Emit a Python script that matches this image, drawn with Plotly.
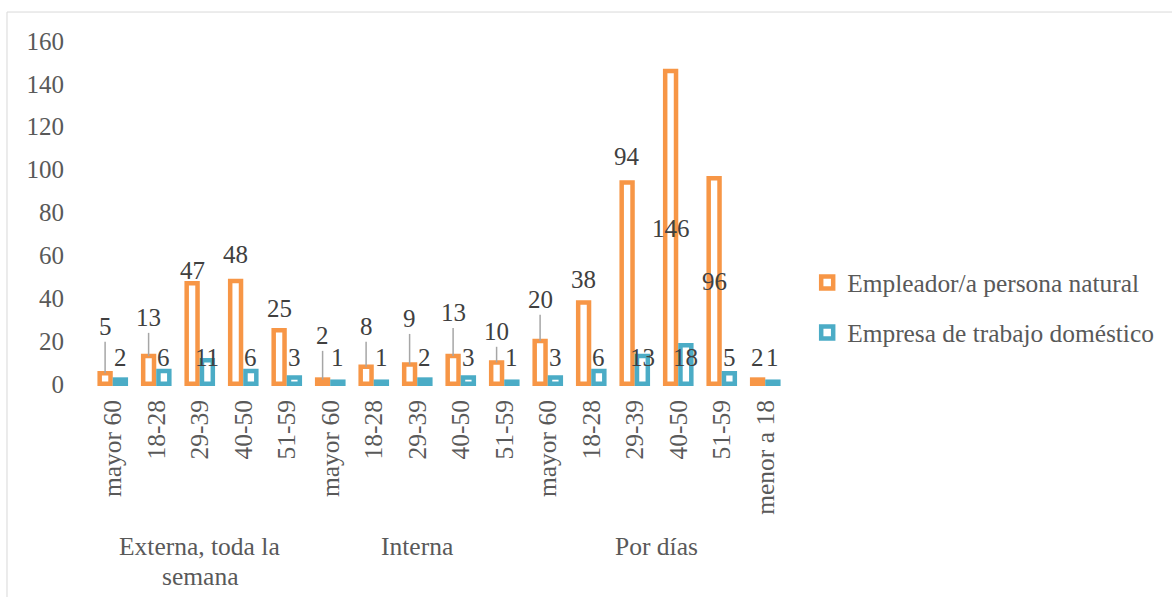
import plotly.graph_objects as go

# Age brackets along the x axis, grouped by type of domestic work
categories = ["mayor 60", "18-28", "29-39", "40-50", "51-59",
              "mayor 60", "18-28", "29-39", "40-50", "51-59",
              "mayor 60", "18-28", "29-39", "40-50", "51-59", "menor a 18"]
groups = ["Externa, toda la<br>semana", "Interna", "Por días"]
group_sizes = [5, 5, 6]

series_names = ["Empleador/a persona natural", "Empresa de trabajo doméstico"]
empleador = [5, 13, 47, 48, 25, 2, 8, 9, 13, 10, 20, 38, 94, 146, 96, 2]
empresa = [2, 6, 11, 6, 3, 1, 1, 2, 3, 1, 3, 6, 13, 18, 5, 1]

# Where each value label sits (axis units) and whether it has a leader line
empleador_label_y = [26.6, 30.8, 52.7, 60.6, 35.4, 22.4, 26.6, 30.3, 33.1,
                     24.3, 39.2, 48.5, 105.9, 72.3, 47.6, 12.1]
empresa_label_y = [12.1] * 16
empleador_leader = [True, True, False, False, False, True, True, True, True,
                    True, True, False, False, False, False, False]

ORANGE = "#F79646"
TEAL = "#4BACC6"
TEXT = "#595959"
LABEL = "#404040"
FONT = "Liberation Serif"

BARGAP = 0.297
half_slot = (1 - BARGAP) / 4  # centre offset of each bar from the category centre

x = list(range(len(categories)))

fig = go.Figure()
for name, vals, col in [(series_names[0], empleador, ORANGE),
                        (series_names[1], empresa, TEAL)]:
    fig.add_trace(go.Bar(
        x=x, y=vals, name=name, legendgroup=name,
        marker=dict(color="white", line=dict(color=col, width=4.5)),
        hoverinfo="y",
    ))

annotations = []
shapes = []
for i in x:
    xo = i - half_slot
    xt = i + half_slot
    annotations.append(dict(x=xo, y=empleador_label_y[i], xref="x", yref="y",
                            text=str(empleador[i]), showarrow=False,
                            font=dict(family=FONT, size=25, color=LABEL)))
    annotations.append(dict(x=xt, y=empresa_label_y[i], xref="x", yref="y",
                            text=str(empresa[i]), showarrow=False,
                            font=dict(family=FONT, size=25, color=LABEL)))
    if empleador_leader[i]:
        shapes.append(dict(type="line", xref="x", yref="y",
                           x0=xo, x1=xo, y0=empleador_label_y[i] - 7,
                           y1=empleador[i],
                           line=dict(color="#A6A6A6", width=1.5)))

# Group captions under the age labels (one annotation per line for tight spacing)
start = 0
for g, n in zip(groups, group_sizes):
    centre = start + (n - 1) / 2
    for k, line in enumerate(g.split("<br>")):
        annotations.append(dict(x=centre, y=-0.466 - 0.086 * k,
                                xref="x", yref="paper",
                                text=line, showarrow=False, yanchor="middle",
                                font=dict(family=FONT, size=25.5, color=TEXT)))
    start += n

# Light frame around the whole chart
shapes.append(dict(type="rect", xref="paper", yref="paper",
                   x0=-0.1207, x1=1.6, y0=-0.7, y1=1.084,
                   line=dict(color="#D9D9D9", width=1), fillcolor="rgba(0,0,0,0)",
                   layer="below"))

fig.update_layout(
    width=1172, height=597,
    margin=dict(l=91, r=385, t=41, b=211, autoexpand=False),
    plot_bgcolor="white", paper_bgcolor="white",
    barmode="group", bargap=BARGAP, bargroupgap=0.29,
    font=dict(family=FONT, size=25, color=TEXT),
    xaxis=dict(tickmode="array", tickvals=x, ticktext=categories,
               tickangle=-90, range=[-0.5, len(categories) - 0.5],
               showgrid=False, zeroline=False, showline=False,
               ticks="", ticklabelstandoff=8,
               tickfont=dict(family=FONT, size=25.5, color=TEXT)),
    yaxis=dict(range=[-1, 160], tickvals=list(range(0, 161, 20)),
               showgrid=False, zeroline=False, showline=False,
               ticks="", ticklabelstandoff=26,
               tickfont=dict(family=FONT, size=25, color=TEXT)),
    legend=dict(x=1.029, y=0.226, xanchor="left", yanchor="middle",
                traceorder="grouped", tracegroupgap=14,
                font=dict(family=FONT, size=25.4, color=TEXT),
                itemwidth=30, bgcolor="rgba(0,0,0,0)"),
    annotations=annotations,
    shapes=shapes,
)

fig.write_html("out.html")
